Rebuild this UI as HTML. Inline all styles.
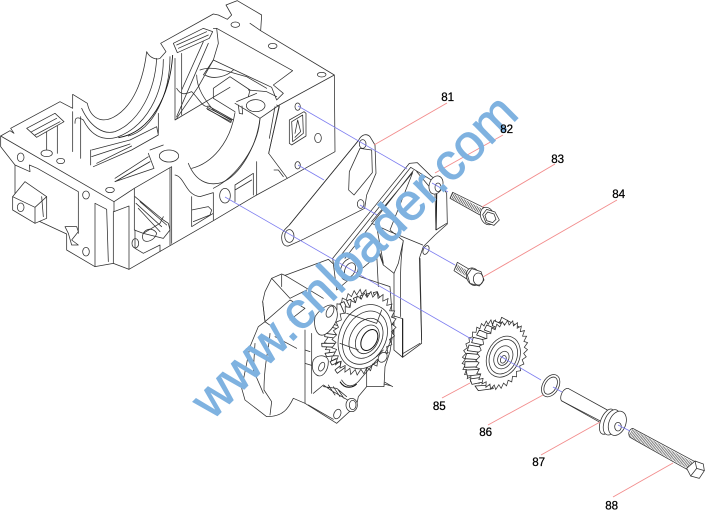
<!DOCTYPE html>
<html><head><meta charset="utf-8"><style>
html,body{margin:0;padding:0;background:#fff;width:705px;height:510px;overflow:hidden}
svg{display:block}
.l{fill:none;stroke:#303030;stroke-width:2.3;stroke-linejoin:round;stroke-linecap:round}
.w{fill:#fff;stroke:#303030;stroke-width:2.3;stroke-linejoin:round}
.d{fill:none;stroke:#111;stroke-width:3.2}
.ax{stroke:#7c7cf0;stroke-width:.8;fill:none}
.ld{stroke:#f28c8c;stroke-width:.9;fill:none}
.t{fill:#fff;stroke:#222;stroke-width:2.4;stroke-linejoin:round}
text.n{font:11.6px "Liberation Sans",sans-serif;fill:#000;text-anchor:middle;stroke:#000;stroke-width:.25}
</style></head><body>
<svg width="705" height="510" viewBox="0 0 705 510" xmlns="http://www.w3.org/2000/svg">
<defs>
<path id="z" vector-effect="non-scaling-stroke" d="M1,0 L.866,.091 L.978,.208 L.827,.269 L.914,.407 L.753,.435 L.809,.588 L.646,.582 L.669,.743 L.512,.704 L.5,.866 L.354,.795 L.309,.951 L.181,.851 L.105,.995 L0,.87 L-.105,.995 L-.181,.851 L-.309,.951 L-.354,.795 L-.5,.866 L-.512,.704 L-.669,.743 L-.646,.582 L-.809,.588 L-.753,.435 L-.914,.407 L-.827,.269 L-.978,.208 L-.866,.091 L-1,0 L-.866,-.091 L-.978,-.208 L-.827,-.269 L-.914,-.407 L-.753,-.435 L-.809,-.588 L-.646,-.582 L-.669,-.743 L-.512,-.704 L-.5,-.866 L-.354,-.795 L-.309,-.951 L-.181,-.851 L-.105,-.995 L0,-.87 L.105,-.995 L.181,-.851 L.309,-.951 L.354,-.795 L.5,-.866 L.512,-.704 L.669,-.743 L.646,-.582 L.809,-.588 L.753,-.435 L.914,-.407 L.827,-.269 L.978,-.208 L.866,-.091Z"/>
</defs>
<rect width="705" height="510" fill="#fff"/>

<!-- crankcase block (coords x3) -->
<g transform="scale(.33333)">
<path class="l" d="M2,408 L30,392 L42,400 L32,385 L180,305 L218,325 L218,283 L262,310 C270,350 300,372 340,352 C400,320 430,240 440,155 C450,175 470,180 480,175 L498,155 L482,130 L640,42 L655,45 L682,58 L695,45 L678,15 L712,2 L785,45 L782,92 L750,70 M782,92 L1003,225 L1005,455 L862,535 L806,460 L838,315 L1003,225"/>
<path class="l" d="M2,408 L342,605 L403,565 M2,408 L2,440 L45,495 L90,515 L88,495 L112,505 L235,575 L235,700 M45,495 L45,595 M45,630 L200,702 L200,750 L285,800 L340,790 L387,808 L640,662 L770,585 L862,535"/>
<path class="l" d="M342,605 L342,635 L387,618 L387,808 M285,610 L285,800 M285,610 L320,628 L325,785 M340,635 L340,790 M403,565 L403,690 M403,565 L515,500 L515,730 M510,505 L510,735 M403,690 L430,700 L480,670 L490,650 M405,690 L405,745 L430,760 L480,735 L480,755"/>
<path class="w" d="M38,590 L75,545 L140,590 L140,655 L105,670 L38,630Z"/>
<path class="l" d="M38,590 L105,622 L140,590 M105,622 L105,670 M125,590 L130,650"/>
<ellipse class="l" cx="62" cy="622" rx="10" ry="13"/>
<ellipse class="l" cx="62" cy="472" rx="10" ry="13"/><ellipse class="l" cx="140" cy="460" rx="17" ry="10"/><ellipse class="l" cx="182" cy="483" rx="12" ry="8"/><ellipse class="l" cx="258" cy="585" rx="10" ry="12"/><ellipse class="l" cx="258" cy="755" rx="10" ry="13"/><ellipse class="l" cx="330" cy="570" rx="13" ry="8"/>
<ellipse class="l" cx="406" cy="730" rx="10" ry="14"/><ellipse class="l" cx="675" cy="587" rx="16" ry="22"/>
<ellipse class="l" cx="706" cy="74" rx="13" ry="8"/><ellipse class="l" cx="818" cy="138" rx="13" ry="8"/><ellipse class="l" cx="965" cy="224" rx="13" ry="7"/>
<ellipse class="l" cx="767" cy="317" rx="28" ry="18"/><ellipse class="l" cx="507" cy="468" rx="29" ry="18"/>
<ellipse class="l" cx="893" cy="320" rx="8" ry="11"/><ellipse class="l" cx="893" cy="496" rx="8" ry="11"/><ellipse class="l" cx="954" cy="414" rx="10" ry="14"/>
<path class="l" d="M868,360 L912,335 L918,340 L918,408 L875,435 L868,430Z M875,365 L908,345 L910,400 L878,425Z M885,400 L893,360 L902,395 L885,412"/>
<!-- saddle 1 -->
<path class="l" d="M470,175 C465,270 420,365 345,395 C310,405 270,380 245,325 M490,178 C490,280 440,380 350,412 C300,425 270,400 250,360 C225,345 225,360 225,370 M510,170 C510,280 460,390 385,408"/>
<path class="d" d="M518,165 C510,290 450,398 355,413" style="stroke-width:2.6"/>
<path class="l" d="M218,335 L218,455 M242,350 L242,475 M275,450 L390,420 L470,380 L475,405 L395,450 L280,500 M275,470 L390,432 M290,490 L395,438 M345,545 L450,485 M345,535 L445,470 M272,450 L272,495 M475,340 L475,400"/>
<path class="l" d="M80,385 L165,340 L192,365 L110,412 Z M95,395 L170,355 M105,405 L180,365 M140,395 L140,450 M172,378 L172,460"/>
<path class="l" d="M525,175 L525,360 L690,262 M545,160 L545,345 M640,85 L650,85 L655,130 L640,180 L595,260 L530,355 M625,130 L530,350 M610,125 L545,270 M520,130 L610,85 L638,95 L628,115 L532,158 Z M530,135 L620,95 M535,145 L625,105"/>
<path class="l" d="M530,265 C545,290 560,280 575,275 C600,300 610,325 625,318 L700,360 M590,225 C590,265 615,300 640,330 L695,362 M620,325 L692,368"/>
<path class="l" d="M622,322 L695,360 M622,328 L695,366"/>
<path class="l" d="M650,85 L878,212 L820,255 L850,280 L830,300 L815,262 L640,180 M600,210 C640,195 680,215 740,230 L800,265 M640,265 L690,230 L750,270 L745,290 M640,265 L640,295 L705,335 M710,305 L770,280 M610,225 L640,180 M700,210 C680,230 640,240 615,225 M745,270 L800,275 L830,290"/>
<path class="l" d="M705,310 L780,355 L838,315 M715,315 L718,340 L728,342 L726,318 M780,355 C775,440 710,530 640,565 M705,338 C690,430 635,490 575,505"/>
<path class="l" d="M565,490 C585,540 620,560 665,548 C720,525 770,440 780,355 M525,525 C555,530 555,585 600,590 L640,578 L640,660 M575,590 L575,680 L640,640 M575,630 L625,620 L635,630 L630,645 L580,665 M705,555 L760,520 L760,585 M705,555 L705,605 M705,570 L755,540 M770,485 L770,585"/>
<path class="l" d="M830,315 L838,320 L815,420 L806,460 M825,320 L808,415 M822,510 L835,510 L850,530"/>
<path class="l" d="M445,460 L462,505 L345,545 L450,485 M490,435 L450,450 M405,590 L490,660 L505,670 L510,690 L490,715 L430,700 M408,610 L485,680 M420,605 L500,675 M415,625 L480,695 M470,700 A20,20 0 1 0 430,720 C440,730 465,720 470,700"/>
<path class="l" d="M195,680 L230,680 L235,695 L215,720 L235,735 L215,735 L205,700Z"/>
</g>

<!-- gasket, pump, bracket (coords x3, offset 190,130) -->
<g transform="translate(190,130) scale(.33333)">
<path class="w" d="M275,322 C275,305 285,298 298,285 L505,32 C515,12 530,10 540,20 L555,45 L558,130 L530,195 L524,235 L340,328 L295,348 C280,350 275,335 275,322Z"/>
<path class="l" d="M478,125 L510,55 L545,60 L547,128 L492,195 L476,180Z"/>
<ellipse class="l" cx="518" cy="42" rx="10" ry="13"/><ellipse class="l" cx="512" cy="222" rx="10" ry="13"/><ellipse class="l" cx="298" cy="318" rx="14" ry="19"/>
<path class="l" d="M298,285 L505,32"/>

<!-- pump housing -->
<path class="w" d="M218,515 L225,485 L245,445 L275,432 L285,436 L415,388 L450,420 L600,470 L610,600 L600,665 L585,710 L582,770 L530,770 L505,800 L500,825 L440,880 L345,820 L310,805 C295,835 280,860 230,860 L165,810 L155,775 L180,650 L205,590 L225,575Z"/>
<path class="l" d="M218,515 L225,575 L300,510 L345,535 L300,570 M245,445 L300,505 M275,435 L275,470 M285,436 L400,505 M300,505 L350,480 M225,575 L260,600 M240,610 C238,650 222,700 222,780 L245,815 L240,855 M195,640 L190,720 L220,790 M255,620 L320,655 M345,600 L345,820 M365,610 L365,790 M345,700 L385,712 M345,660 L360,665 M370,790 L400,765 L425,782 L490,820 M355,825 L430,868 M530,700 L530,770 M582,762 L605,768 M585,757 L608,770 M400,770 L440,775 L470,800 M415,765 L435,795 M430,770 L450,800 M445,780 L462,805"/>
<ellipse class="l" cx="442" cy="852" rx="10" ry="15" transform="rotate(25 442 852)"/>
<ellipse class="w" cx="485" cy="825" rx="17" ry="20"/><ellipse class="l" cx="488" cy="825" rx="10" ry="14"/>

<!-- bracket -->
<path class="w" d="M428,385 L658,100 L682,98 L725,140 L745,150 L770,190 L772,282 L735,315 L700,350 L688,385 L695,640 L638,682 L612,660 L612,430 L580,405 L568,372 L440,480 Z"/>
<path class="l" d="M440,392 L662,112 L740,160 M465,385 L670,122 M545,275 L668,128 L600,300 L640,332 M545,280 L600,305 M560,370 L565,470 M580,405 L570,370 M560,290 L580,400 M640,332 L625,400 L612,430 M640,332 C632,380 630,430 632,560 M600,305 L698,345 M680,125 L735,190 L738,300 L770,280 M690,385 L695,630 M640,670 L690,640"/>
<path class="w" d="M612,558 L638,566 L638,682 L612,660Z"/>
<path class="d" d="M638,566 L638,680 M740,192 L738,300"/>
<ellipse class="w" cx="478" cy="418" rx="25" ry="35" transform="rotate(25 478 418)"/>
<ellipse class="l" cx="480" cy="420" rx="15" ry="23" transform="rotate(25 480 420)"/>
<ellipse class="w" cx="738" cy="165" rx="20" ry="28" transform="rotate(20 738 165)"/>
<ellipse class="l" cx="744" cy="172" rx="9" ry="13"/>
<ellipse class="l" cx="708" cy="360" rx="8" ry="14" transform="rotate(25 708 360)"/>

<!-- pump gear -->
<use href="#z" transform="translate(490,595) rotate(22) scale(80,122)" fill="#fff" stroke="#303030" stroke-width=".75"/>
<path class="t" d="M450,520 L470,565 L482,560 L462,515Z M470,512 L490,550 L502,546 L482,508Z M490,505 L510,545 L522,542 L502,500Z M510,498 L525,538 L537,535 L522,494Z M530,492 L545,532 L557,530 L542,489Z M550,488 L565,525 L577,525 L562,485Z"/>
<path class="t" d="M420,580 L455,590 L458,600 L417,590Z M405,610 L445,615 L446,626 L404,620Z M395,640 L440,640 L440,652 L396,650Z M405,670 L442,665 L445,676 L410,680Z M420,695 L450,682 L456,692 L426,705Z M435,720 L460,700 L468,710 L442,730Z"/>
<use href="#z" transform="translate(522,610) rotate(22) scale(90,130)" fill="#fff" stroke="#303030" stroke-width=".75"/>
<ellipse class="l" cx="525" cy="620" rx="76" ry="100" transform="rotate(25 525 620)"/>
<ellipse class="l" cx="525" cy="623" rx="62" ry="84" transform="rotate(28 525 623)"/>
<ellipse class="l" cx="528" cy="625" rx="46" ry="64" transform="rotate(30 528 625)"/>
<ellipse class="l" cx="532" cy="628" rx="32" ry="46" transform="rotate(30 532 628)"/>
<ellipse cx="538" cy="630" rx="22" ry="34" transform="rotate(30 538 630)" fill="#fff" stroke="#111" stroke-width="3"/>
<path class="l" d="M450,640 L505,660 M470,550 L560,580 L575,540 M560,680 L580,660"/>
<path class="w" d="M375,560 C395,530 430,510 440,540 C450,570 420,610 400,615 C380,620 370,590 375,560Z"/>
<ellipse class="l" cx="420" cy="545" rx="10" ry="18" transform="rotate(25 420 545)"/>
<path class="w" d="M370,690 C385,670 415,675 415,695 C415,725 395,745 380,735 C365,725 365,705 370,690Z"/>
<ellipse class="l" cx="395" cy="710" rx="8" ry="14" transform="rotate(25 395 710)"/>
<path class="l" d="M455,750 C470,775 490,770 505,755 L560,690 L595,668"/>
<path class="d" d="M450,755 C465,780 490,772 500,762"/>
<ellipse class="w" cx="578" cy="682" rx="12" ry="16" transform="rotate(35 578 682)"/>
</g>

<!-- bolts, gear, etc (coords x3, offset 420,80) -->
<g transform="translate(420,80) scale(.33333)">
<!-- 83 -->
<path class="w" d="M98,337 L190,382 L180,405 L90,355 Z"/>
<path d="M94,346 L184,394" stroke="#444" stroke-width="16" stroke-dasharray="2 3" fill="none"/>
<ellipse class="w" cx="202" cy="408" rx="20" ry="27" transform="rotate(-20 202 408)"/>
<path class="w" d="M200,388 L225,396 L238,420 L222,436 L198,428 L188,404Z"/>
<path class="l" d="M203,396 L222,402 L228,418 L218,428 L200,422 L195,406Z"/>
<!-- 84 -->
<path class="w" d="M112,547 L155,572 L145,600 L102,572Z"/>
<path d="M107,560 L150,586" stroke="#444" stroke-width="16" stroke-dasharray="2 3" fill="none"/>
<ellipse class="w" cx="160" cy="590" rx="20" ry="27" transform="rotate(-20 160 590)"/>
<path class="w" d="M155,566 L183,575 L192,600 L178,618 L150,610 L142,585Z"/>
<ellipse class="l" cx="175" cy="597" rx="15" ry="18"/>

<!-- gear 85 -->
<use href="#z" transform="translate(195,815) rotate(22) scale(62,100)" fill="#fff" stroke="#303030" stroke-width=".75"/>
<path class="t" d="M245,712 L300,742 L300,756 L240,726Z M222,722 L275,745 L272,760 L217,737Z M200,735 L250,755 L245,770 L193,750Z M178,750 L225,770 L220,784 L170,765Z M160,772 L215,785 L212,800 L155,788Z M147,795 L205,805 L202,820 L142,812Z M140,820 L195,825 L195,840 L135,836Z M135,845 L190,845 L190,860 L134,862Z M138,870 L192,868 L195,882 L142,888Z M150,897 L200,890 L204,903 L156,913Z M165,918 L215,915 L220,926 L175,932Z"/>
<use href="#z" transform="translate(245,825) rotate(22) scale(72,108)" fill="#fff" stroke="#303030" stroke-width=".75"/>
<ellipse class="l" cx="250" cy="830" rx="48" ry="64" transform="rotate(25 250 830)"/>
<ellipse class="l" cx="250" cy="830" rx="40" ry="54" transform="rotate(25 250 830)"/>
<ellipse class="l" cx="250" cy="832" rx="27" ry="36" transform="rotate(25 250 832)"/>
<ellipse class="l" cx="250" cy="835" rx="16" ry="22" transform="rotate(25 250 835)"/>
<ellipse class="l" cx="250" cy="838" rx="8" ry="12" transform="rotate(25 250 838)"/>

<!-- washer 86 -->
<ellipse class="l" cx="392" cy="917" rx="24" ry="36" transform="rotate(30 392 917)"/>
<ellipse class="l" cx="392" cy="917" rx="17" ry="28" transform="rotate(30 392 917)"/>

<!-- sleeve 87 -->
<path class="w" d="M444,925 L562,990 L545,1030 L424,962 C418,950 428,925 444,925Z"/>
<path class="l" d="M424,962 L545,1025"/>
<ellipse class="w" cx="562" cy="1025" rx="20" ry="40" transform="rotate(22 562 1025)"/>
<ellipse class="w" cx="575" cy="1027" rx="22" ry="40" transform="rotate(22 575 1027)"/>
<ellipse class="w" cx="592" cy="1030" rx="25" ry="38" transform="rotate(22 592 1030)"/>
<ellipse class="l" cx="594" cy="1040" rx="10" ry="13"/>

<!-- bolt 88 -->
<path class="w" d="M638,1045 L825,1145 L808,1172 L630,1072 C622,1060 628,1048 638,1045Z"/>
<path d="M632,1058 L815,1158" stroke="#555" stroke-width="24" stroke-dasharray="1.8 2.6" fill="none"/>
<path class="w" d="M825,1143 L850,1152 L853,1172 L838,1195 L812,1188 L800,1165Z"/>
<path class="l" d="M825,1143 L830,1165 L812,1188 M830,1165 L853,1172"/>
</g>

<!-- axes -->
<path class="ax" d="M298,106 L407,169 M432,183 L448,192 M298,165 L324,180 M360,205 L377,215 M423,247 L455,265 M225,197 L473,340 M500,356 L541,380 M553,387 L562,392 M618,425 L630,431"/>

<!-- leaders -->
<path class="ld" d="M374,145 L447,103 M435,173 L503,135 M482,207 L555,164 M483,277 L617,200 M470,383 L442,398 M543,395 L488,425 M600,422 L541,455 M673,463 L613,497"/>

<!-- watermark -->
<text x="212" y="421" transform="rotate(-44.7 212 421)" font-family="Liberation Sans, sans-serif" font-size="51.5" fill="#7fb2e0" stroke="#7fb2e0" stroke-width=".9" textLength="434" lengthAdjust="spacingAndGlyphs">www.cnloader.com</text>

<!-- labels -->
<text class="n" x="447.7" y="101">81</text>
<text class="n" x="506.7" y="133">82</text>
<text class="n" x="557.7" y="163">83</text>
<text class="n" x="618.7" y="198">84</text>
<text class="n" x="439.3" y="410">85</text>
<text class="n" x="485.7" y="436">86</text>
<text class="n" x="538.7" y="466">87</text>
<text class="n" x="611.7" y="509.5">88</text>
</svg>
</body></html>
